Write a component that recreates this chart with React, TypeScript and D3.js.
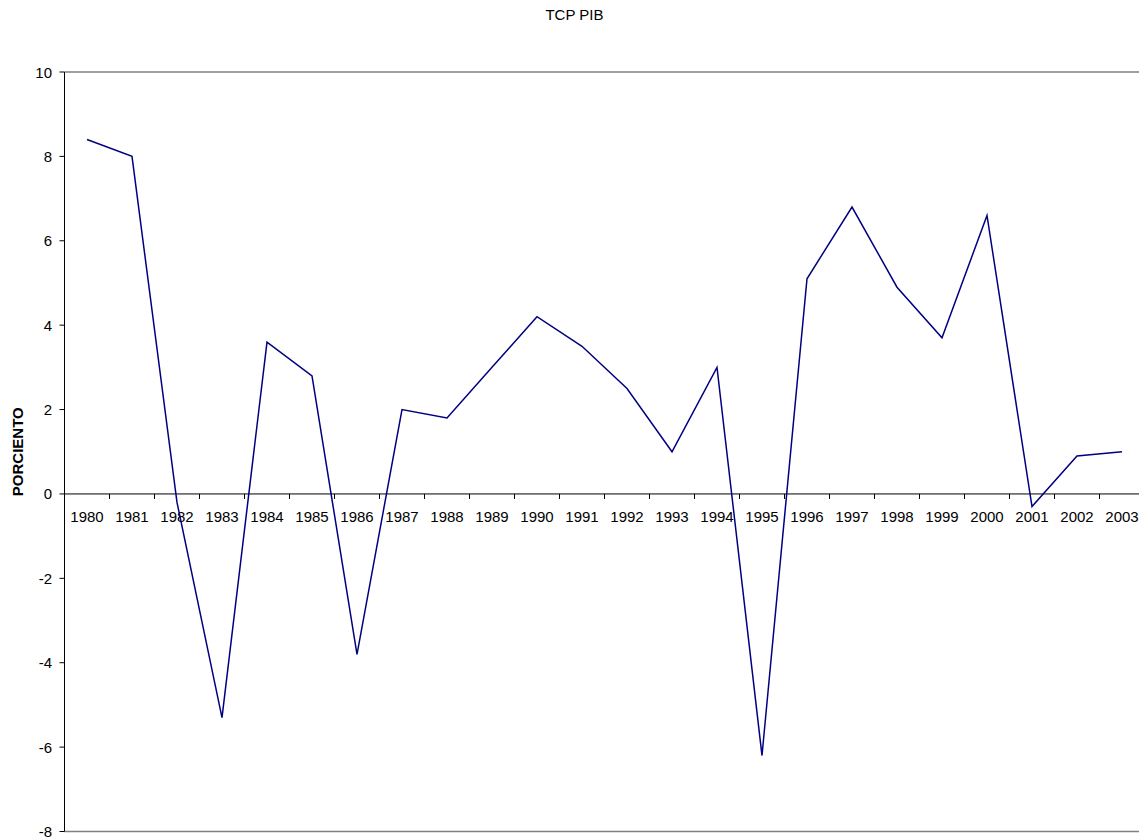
import React from "react";
import * as d3 from "d3";

const years = ["1980","1981","1982","1983","1984","1985","1986","1987","1988","1989","1990","1991","1992","1993","1994","1995","1996","1997","1998","1999","2000","2001","2002","2003"];
const values = [8.4, 8.0, -0.2, -5.3, 3.6, 2.8, -3.8, 2.0, 1.8, 3.0, 4.2, 3.5, 2.5, 1.0, 3.0, -6.2, 5.1, 6.8, 4.9, 3.7, 6.6, -0.3, 0.9, 1.0];
const yTicks = [10, 8, 6, 4, 2, 0, -2, -4, -6, -8];

const W = 1139, H = 839;
const left = 64.5, right = 1144.5, top = 72, bottom = 831.5;

export default function App() {
  const x = d3.scaleBand<string>().domain(years).range([left, right]).padding(0);
  const y = d3.scaleLinear().domain([-8, 10]).range([bottom, top]);
  const line = d3.line<number>()
    .x((_, i) => (x(years[i]) as number) + x.bandwidth() / 2)
    .y((d) => y(d));
  const font = "'Liberation Sans', Arial, sans-serif";
  const y0 = y(0);
  return (
    <svg width={W} height={H} style={{ position: "absolute", left: 0, top: 0, background: "#fff" }} fontFamily={font}>
      <text x={W / 2 + 5} y={20} textAnchor="middle" fontSize={15} fill="#000">TCP PIB</text>
      <line x1={left} x2={W} y1={top} y2={top} stroke="#808080" strokeWidth={1.5} />
      <line x1={left} x2={W} y1={bottom} y2={bottom} stroke="#808080" strokeWidth={1.5} />
      <line x1={left} x2={left} y1={top} y2={bottom} stroke="#000" strokeWidth={1} />
      {yTicks.map((t) => (
        <g key={t}>
          <line x1={left - 5} x2={left} y1={y(t)} y2={y(t)} stroke="#000" strokeWidth={1} />
          <text x={52} y={y(t) + 5.5} textAnchor="end" fontSize={15} fill="#000">{t}</text>
        </g>
      ))}
      <line x1={left} x2={W} y1={y0} y2={y0} stroke="#000" strokeWidth={1} />
      {years.map((yr, i) => (
        <g key={yr}>
          {i > 0 && (
            <line x1={x(yr) as number} x2={x(yr) as number} y1={y0} y2={y0 + 5} stroke="#000" strokeWidth={1} />
          )}
          <text x={(x(yr) as number) + x.bandwidth() / 2} y={y0 + 28.5} textAnchor="middle" fontSize={15} fill="#000">{yr}</text>
        </g>
      ))}
      <text transform={`translate(23, ${(top + bottom) / 2}) rotate(-90)`} textAnchor="middle" fontSize={15} fontWeight="bold" fill="#000">PORCIENTO</text>
      <path d={line(values) || ""} fill="none" stroke="#000080" strokeWidth={1.5} />
    </svg>
  );
}
